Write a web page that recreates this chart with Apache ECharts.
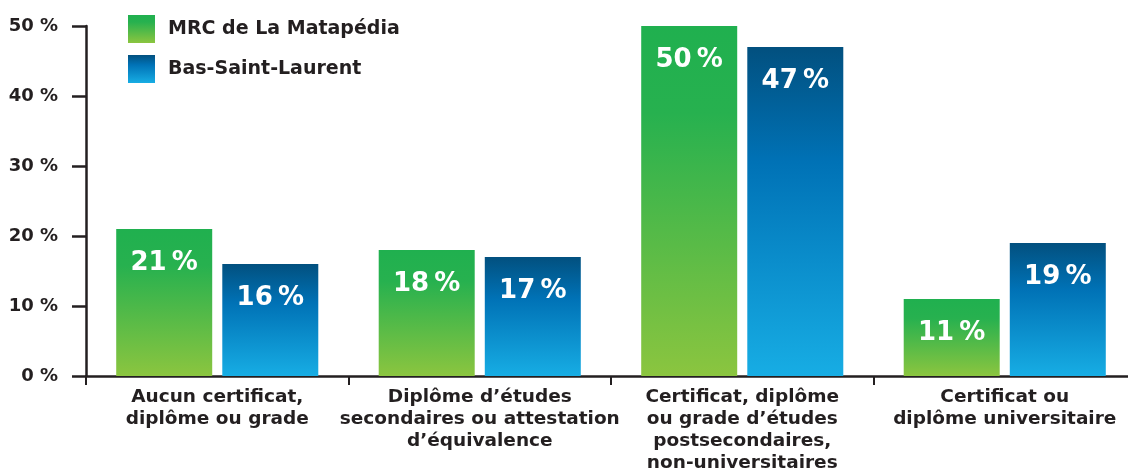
<!DOCTYPE html>
<html>
<head>
<meta charset="utf-8">
<style>
  html, body { margin: 0; padding: 0; background: #fff; }
  #chart { width: 1128px; height: 475px; }
</style>
<script src="https://cdn.jsdelivr.net/npm/echarts@6/dist/echarts.min.js"></script>
</head>
<body>
<div id="chart"></div>
<script>
// catégories de scolarité
const categories = [
  'Aucun certificat,\ndiplôme ou grade',
  'Diplôme d’études\nsecondaires ou attestation\nd’équivalence',
  'Certificat, diplôme\nou grade d’études\npostsecondaires,\nnon-universitaires',
  'Certificat ou\ndiplôme universitaire'
]
const matapedia = [21, 18, 50, 11]
const basSaintLaurent = [16, 17, 47, 19]
const yTicks = [0, 10, 20, 30, 40, 50]

const dark = '#231f20'
const font = '"DejaVu Sans", sans-serif'

const greenFill = new echarts.graphic.LinearGradient(0, 0, 0, 1, [
  { offset: 0, color: '#20b04f' },
  { offset: 0.25, color: '#27b14f' },
  { offset: 1, color: '#8bc53f' }
])
const blueFill = new echarts.graphic.LinearGradient(0, 0, 0, 1, [
  { offset: 0, color: '#02507f' },
  { offset: 0.35, color: '#0072b6' },
  { offset: 1, color: '#17ade4' }
])

const barLabel = {
  show: true,
  position: 'insideTop',
  distance: 21,
  color: '#fff',
  fontFamily: font,
  fontWeight: 'bold',
  fontSize: 26,
  formatter: p => p.value + '\u2009%'
}

const chart = echarts.init(document.getElementById('chart'))
chart.setOption({
  animation: false,
  legend: {
    orient: 'vertical',
    left: 123,
    top: 10,
    itemWidth: 27,
    itemHeight: 28,
    itemGap: 12,
    icon: 'rect',
    textStyle: { color: dark, fontFamily: font, fontWeight: 'bold', fontSize: 19, padding: [0, 0, 0, 8] }
  },
  grid: { left: 86, top: 26, right: -8, bottom: 99, outerBoundsMode: 'none', containLabel: false },
  xAxis: {
    type: 'category',
    data: categories,
    axisLine: { lineStyle: { color: dark, width: 2.5 } },
    axisTick: { show: true, length: 9, lineStyle: { color: dark, width: 2 } },
    axisLabel: {
      interval: 0,
      margin: 10,
      color: dark,
      fontFamily: font,
      fontWeight: 'bold',
      fontSize: 18.5,
      lineHeight: 22,
      align: 'center'
    }
  },
  yAxis: {
    type: 'value',
    min: 0,
    max: 50,
    interval: 10,
    splitLine: { show: false },
    axisLine: { show: true, lineStyle: { color: dark, width: 2.5 } },
    axisTick: { show: true, length: 14, lineStyle: { color: dark, width: 2.5 } },
    axisLabel: {
      margin: 28,
      color: dark,
      fontFamily: font,
      fontWeight: 'bold',
      fontSize: 18,
      formatter: v => yTicks.includes(v) ? v + ' %' : ''
    }
  },
  series: [
    {
      name: 'MRC de La Matapédia',
      type: 'bar',
      data: matapedia,
      barWidth: 96,
      barGap: '10.5%',
      itemStyle: { color: greenFill },
      label: barLabel
    },
    {
      name: 'Bas-Saint-Laurent',
      type: 'bar',
      data: basSaintLaurent,
      barWidth: 96,
      itemStyle: { color: blueFill },
      label: barLabel
    }
  ]
})
</script>
</body>
</html>
